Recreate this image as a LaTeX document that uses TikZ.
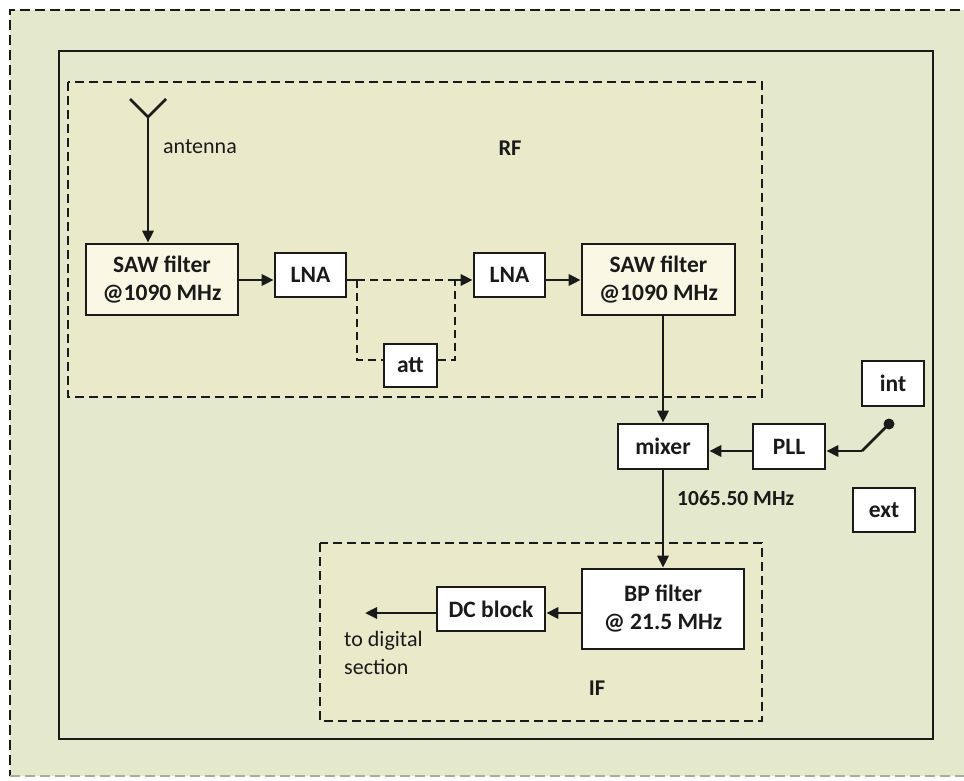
\documentclass[tikz,border=0pt]{standalone}
\usepackage{fontspec}
\setmainfont{Carlito}
\usetikzlibrary{arrows.meta,calc}
\definecolor{bggreen}{HTML}{E4E9CD}
\definecolor{regionfill}{HTML}{EAEACB}
\definecolor{creamfill}{HTML}{FAF7E4}
\definecolor{inkc}{HTML}{1A1A1A}
\definecolor{faintc}{HTML}{A8AE98}
\tikzset{
  blk/.style={draw=inkc, line width=2.6pt, fill=white, text=inkc, font=\fontsize{23.5}{28}\selectfont\bfseries, inner sep=0pt, align=center},
  sawblk/.style={blk, fill=creamfill},
  conn/.style={draw=inkc, line width=2.8pt, -{Triangle[length=12pt,width=11pt]}},
  plainline/.style={draw=inkc, line width=2.8pt},
  dashline/.style={draw=inkc, line width=2.5pt, dash pattern=on 8pt off 5pt},
  region/.style={draw=inkc, line width=2.8pt, dash pattern=on 9pt off 5pt, fill=regionfill},
  lbl/.style={text=inkc, font=\fontsize{22}{28}\selectfont, inner sep=0pt},
  blbl/.style={lbl, font=\fontsize{22.5}{28}\selectfont\bfseries}
}
\begin{document}
\begin{tikzpicture}[x=1pt,y=-1pt]
\useasboundingbox (0,0) rectangle (964,781);
% outer background
\fill[white] (0,0) rectangle (964,781);
\fill[bggreen] (10,10) rectangle (975,776);
\draw[draw=inkc, line width=2.8pt, dash pattern=on 10pt off 5pt] (975,10) -- (10,10) -- (10,776);
\draw[draw=faintc, line width=1.5pt, dash pattern=on 10pt off 5pt] (10,776) -- (975,776);
% solid frame
\draw[draw=inkc, line width=2.8pt] (59,51) rectangle (933,739);
% regions
\draw[region] (68,82) rectangle (762,397);
\draw[region] (320,543) rectangle (762,721);

% blocks
\node[sawblk, minimum width=152pt, minimum height=71pt] (saw1) at (162,279.5) {SAW filter\\@1090 MHz};
\node[blk, minimum width=71pt, minimum height=44pt] (lna1) at (310.5,275) {LNA};
\node[blk, minimum width=53pt, minimum height=43pt] (att) at (410.5,365.5) {att};
\node[blk, minimum width=71pt, minimum height=44pt] (lna2) at (509.5,275) {LNA};
\node[sawblk, minimum width=153pt, minimum height=71pt] (saw2) at (658.5,279.5) {SAW filter\\@1090 MHz};
\node[blk, minimum width=90pt, minimum height=45pt] (mixer) at (663,446.5) {mixer};
\node[blk, minimum width=72pt, minimum height=45pt] (pll) at (789,446.5) {PLL};
\node[blk, minimum width=62pt, minimum height=45pt] (int) at (893,383.5) {int};
\node[blk, minimum width=62pt, minimum height=44pt] (ext) at (884,510) {ext};
\node[blk, minimum width=162pt, minimum height=80pt] (bp) at (663,609) {BP filter\\@ 21.5 MHz};
\node[blk, minimum width=108pt, minimum height=44pt] (dc) at (491,609) {DC block};

% labels
\node[lbl, anchor=west] (antlbl) at (163,147) {antenna};
\node[blbl] (rflbl) at (510,148) {RF};
\node[blbl, anchor=west, font=\fontsize{21.5}{26}\selectfont\bfseries] (freqlbl) at (677,498) {1065.50 MHz};
\node[lbl, anchor=north west, align=left] (digilbl) at (344,631) {to digital\\section};
\node[blbl] (iflbl) at (597,688) {IF};

% antenna
\coordinate (ant) at (148,117);
\coordinate (antl) at (130,99);
\coordinate (antr) at (166,99);
\draw[plainline] (antl) -- (ant) -- (antr);
\draw[conn] (ant) -- (ant |- saw1.north);

% RF chain
\coordinate (y1) at (0,280);
\draw[conn] (saw1.east |- y1) -- (lna1.west |- y1);
\coordinate (j1) at (357,280);
\coordinate (j2) at (455,280);
\draw[plainline, line width=2.5pt] (lna1.east |- y1) -- (j1);
\draw[dashline] (j1) -- (j2);
\draw[dashline] (j1) -- (j1 |- 0,360) -- (att.west |- 0,360);
\draw[dashline] (att.east |- 0,360) -- (j2 |- 0,360) -- (j2);
\draw[conn] (j2) -- (lna2.west |- y1);
\draw[conn] (lna2.east |- y1) -- (saw2.west |- y1);
\draw[conn] (saw2.south -| mixer.north) -- (mixer.north);

% LO
\coordinate (yl) at (0,451);
\draw[conn] (pll.west |- yl) -- (mixer.east |- yl);
\coordinate (sw) at (889,424);
\coordinate (swk) at (862,451);
\fill[inkc] (sw) circle (5.5pt);
\draw[plainline] (sw) -- (swk);
\draw[conn] (swk) -- (pll.east |- yl);

% IF chain
\draw[conn] (mixer.south) -- (bp.north);
\coordinate (y2) at (0,613);
\draw[conn] (bp.west |- y2) -- (dc.east |- y2);
\coordinate (out) at (365,613);
\draw[conn] (dc.west |- y2) -- (out);
\end{tikzpicture}
\end{document}
